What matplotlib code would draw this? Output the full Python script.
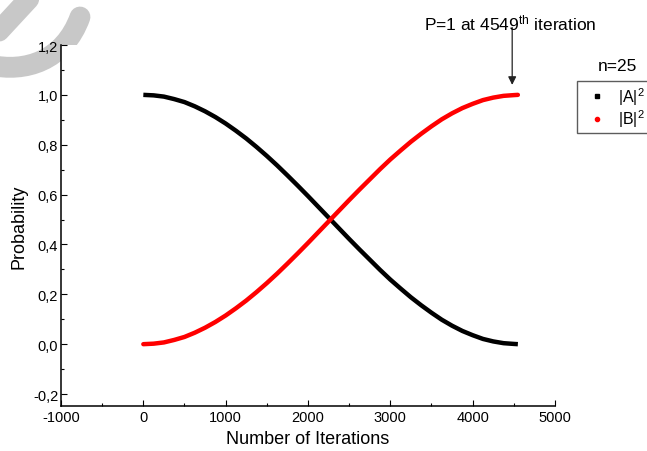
import matplotlib
matplotlib.use("Agg")
import matplotlib.pyplot as plt
from matplotlib.path import Path
from matplotlib.patches import PathPatch
from matplotlib.ticker import FixedLocator, MultipleLocator, FuncFormatter
from matplotlib.lines import Line2D

plt.rcParams['font.family'] = ['Liberation Sans', 'DejaVu Sans']
plt.rcParams['mathtext.fontset'] = 'custom'
plt.rcParams['mathtext.rm'] = 'Liberation Sans'
plt.rcParams['mathtext.it'] = 'Liberation Sans:italic'

# ---- data ----
iterations = [0, 125, 250, 375, 500, 625, 750, 875, 1000, 1125, 1250, 1375,
              1500, 1625, 1750, 1875, 2000, 2125, 2250, 2375, 2500, 2625,
              2750, 2875, 3000, 3125, 3250, 3375, 3500, 3625, 3750, 3875,
              4000, 4125, 4250, 4375, 4500, 4549]
prob_B = [0.000, 0.002, 0.007, 0.017, 0.029, 0.046, 0.066, 0.089, 0.115, 0.144,
          0.175, 0.209, 0.245, 0.283, 0.323, 0.364, 0.406, 0.449, 0.492, 0.535,
          0.578, 0.620, 0.661, 0.702, 0.741, 0.777, 0.812, 0.844, 0.874, 0.902,
          0.926, 0.947, 0.964, 0.979, 0.989, 0.996, 0.999, 1.000]
prob_A = [1.000, 0.998, 0.993, 0.983, 0.971, 0.954, 0.934, 0.911, 0.885, 0.856,
          0.825, 0.791, 0.755, 0.717, 0.677, 0.636, 0.594, 0.551, 0.508, 0.465,
          0.422, 0.380, 0.339, 0.298, 0.259, 0.223, 0.188, 0.156, 0.126, 0.098,
          0.074, 0.053, 0.036, 0.021, 0.011, 0.004, 0.001, 0.000]
series_labels = [r'$|\mathrm{A}|^2$', r'$|\mathrm{B}|^2$']
legend_title = 'n=25'
x_ticks = [-1000, 0, 1000, 2000, 3000, 4000, 5000]
y_ticks = [-0.2, 0.0, 0.2, 0.4, 0.6, 0.8, 1.0, 1.2]
annot_text = r'P=1 at 4549$^{\mathrm{th}}$ iteration'

W, H = 647, 452
fig = plt.figure(figsize=(W / 100, H / 100), dpi=100)
ax = fig.add_axes([61 / W, 1 - 407 / H, (555 - 61) / W, (407 - 46) / H])

ax.plot(iterations, prob_A, color='black', lw=3.2, solid_capstyle='butt',
        solid_joinstyle='round')
ax.plot(iterations, prob_B, color='#ff0000', lw=3.2, solid_capstyle='round',
        solid_joinstyle='round')

ax.set_xlim(-1000, 5000)
ax.set_ylim(-0.248, 1.2)

for s in ['top', 'right']:
    ax.spines[s].set_visible(False)
for s in ['left', 'bottom']:
    ax.spines[s].set_linewidth(1.1)

ax.xaxis.set_major_locator(FixedLocator(x_ticks))
ax.xaxis.set_minor_locator(MultipleLocator(500))
ax.yaxis.set_major_locator(FixedLocator(y_ticks))
ax.yaxis.set_minor_locator(MultipleLocator(0.1))
ax.xaxis.set_major_formatter(FuncFormatter(lambda v, p: '%d' % v))
ax.yaxis.set_major_formatter(FuncFormatter(lambda v, p: ('%.1f' % v).replace('.', ',')))
ax.tick_params(which='major', direction='in', length=4, width=0.8, labelsize=10.5, pad=2)
ax.tick_params(which='minor', direction='in', length=2.5, width=0.8)
ax.tick_params(axis='x', pad=3)

ax.set_xlabel('Number of Iterations', fontsize=13, labelpad=4)
ax.set_ylabel('Probability', fontsize=13, labelpad=4)

# annotation
ax.annotate('', xy=(4480, 1.04), xytext=(4480, 1.27),
            arrowprops=dict(arrowstyle='-|>', color='#222222', lw=0.9,
                            mutation_scale=12, shrinkA=0, shrinkB=0),
            annotation_clip=False)
ax.text(4458, 1.292, annot_text, ha='center', va='center', fontsize=12.5,
        clip_on=False)

# legend
handles = [Line2D([], [], ls='none', marker='s', ms=2.5, color='black'),
           Line2D([], [], ls='none', marker='o', ms=3, color='#ff0000')]
leg = ax.legend(handles, series_labels, loc='upper left',
                bbox_to_anchor=(577 / W, 1 - 82 / H), bbox_transform=fig.transFigure,
                frameon=True, fancybox=False, edgecolor='#333333', fontsize=11.5,
                borderaxespad=0, borderpad=0.25, handlelength=2.0,
                handletextpad=0.3, labelspacing=0.05)
leg.get_frame().set_linewidth(1.0)
fig.text(617 / W, 1 - 67 / H, legend_title, ha='center', va='center', fontsize=12.5)

# grey watermark strokes at top-left (decoration)
def px(x, y):
    return (x, H - y)

band1 = Path([px(38, -10), px(-12, 44)], [Path.MOVETO, Path.LINETO])
band2 = Path([px(-10, 66), px(25, 74), px(64, 62), px(80, 18)],
             [Path.MOVETO, Path.CURVE4, Path.CURVE4, Path.CURVE4])
for pth in (band1, band2):
    fig.add_artist(PathPatch(pth, facecolor='none', edgecolor='#c8c8c8', lw=15,
                             capstyle='round', joinstyle='round',
                             transform=None, zorder=-5))

fig.savefig('out.png', dpi=100)
